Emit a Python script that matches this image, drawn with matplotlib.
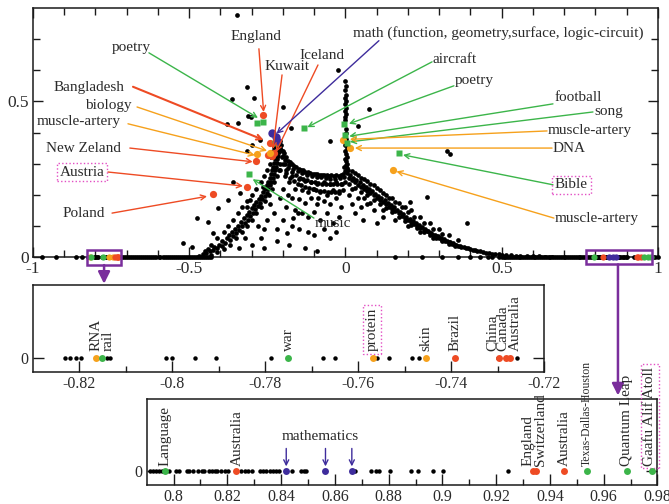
import matplotlib
matplotlib.use("Agg")
import matplotlib.pyplot as plt

plt.rcParams["font.family"] = ["Liberation Serif", "DejaVu Serif"]
plt.rcParams["axes.unicode_minus"] = False

RED = "#ee4b24"
ORANGE = "#f6a11c"
GREEN = "#3cb54a"
BLUE = "#3e2c9c"
PURPLE = "#7a2e9c"
PINK = "#e34fc4"
TXT = "#2a2a2a"

# ---------------- top panel: black points ----------------
column_x = [0.000, 0.002, -0.001, 0.001, 0.000, 0.003, -0.002, 0.001, 0.000, 0.002,
            0.000, -0.001, 0.002, 0.001, 0.000, 0.003, 0.001, -0.002, 0.004, 0.000,
            0.002, 0.005, -0.003, 0.003, 0.006, 0.001, -0.004, 0.004, 0.008, -0.002]
column_y = [0.565, 0.548, 0.535, 0.522, 0.512, 0.502, 0.490, 0.480, 0.470, 0.460,
            0.450, 0.440, 0.412, 0.400, 0.390, 0.380, 0.370, 0.360, 0.350, 0.340,
            0.330, 0.320, 0.315, 0.310, 0.300, 0.295, 0.290, 0.285, 0.280, 0.275]

rise_x = [-0.47, -0.455, -0.445, -0.435, -0.44, -0.425, -0.42, -0.41, -0.405, -0.395,
          -0.395, -0.385, -0.38, -0.37, -0.372, -0.36, -0.362, -0.35, -0.352, -0.34,
          -0.345, -0.332, -0.335, -0.322, -0.325, -0.313, -0.316, -0.305, -0.308, -0.296,
          -0.3, -0.288, -0.292, -0.28, -0.285, -0.272, -0.278, -0.266, -0.27, -0.259,
          -0.264, -0.252, -0.258, -0.247, -0.252, -0.242, -0.247, -0.237, -0.243, -0.233,
          -0.238, -0.229, -0.235, -0.226, -0.232, -0.223, -0.229, -0.22, -0.226, -0.218,
          -0.223, -0.215, -0.22, -0.212, -0.216, -0.209, -0.212, -0.205, -0.21, -0.218,
          -0.45, -0.43, -0.41, -0.39, -0.375, -0.36, -0.345, -0.33, -0.315, -0.3,
          -0.285, -0.27, -0.26, -0.25, -0.243, -0.238, -0.232, -0.228,
          -0.43, -0.41, -0.39, -0.37, -0.35, -0.33, -0.315, -0.3, -0.285, -0.27,
          -0.258, -0.245, -0.235, -0.228, -0.22, -0.213, -0.208, -0.203, -0.2]
rise_y = [0.004, 0.008, 0.012, 0.018, 0.025, 0.022, 0.032, 0.028, 0.040, 0.036,
          0.050, 0.046, 0.060, 0.056, 0.070, 0.066, 0.080, 0.076, 0.090, 0.088,
          0.100, 0.098, 0.112, 0.108, 0.124, 0.120, 0.135, 0.132, 0.146, 0.142,
          0.156, 0.153, 0.166, 0.164, 0.176, 0.175, 0.186, 0.185, 0.197, 0.196,
          0.208, 0.207, 0.219, 0.218, 0.230, 0.230, 0.242, 0.242, 0.254, 0.254,
          0.266, 0.266, 0.278, 0.278, 0.290, 0.290, 0.302, 0.302, 0.314, 0.314,
          0.326, 0.326, 0.338, 0.338, 0.350, 0.350, 0.362, 0.360, 0.372, 0.365,
          0.02, 0.04, 0.06, 0.08, 0.10, 0.12, 0.14, 0.16, 0.18, 0.20,
          0.22, 0.24, 0.26, 0.28, 0.30, 0.32, 0.34, 0.355,
          0.005, 0.015, 0.025, 0.04, 0.06, 0.08, 0.10, 0.12, 0.14, 0.16,
          0.18, 0.20, 0.22, 0.24, 0.26, 0.28, 0.30, 0.32, 0.34]

upper_x = [-0.205, -0.198, -0.2, -0.19, -0.185, -0.195, -0.178, -0.172, -0.182, -0.165,
           -0.158, -0.168, -0.15, -0.142, -0.152, -0.135, -0.128, -0.138, -0.12, -0.112,
           -0.122, -0.105, -0.098, -0.108, -0.09, -0.082, -0.092, -0.075, -0.068, -0.078,
           -0.06, -0.052, -0.062, -0.045, -0.038, -0.048, -0.03, -0.022, -0.032, -0.015,
           -0.008, -0.018, -0.005,
           -0.195, -0.183, -0.171, -0.159, -0.147, -0.135, -0.123, -0.111, -0.099, -0.087,
           -0.075, -0.063, -0.051, -0.039, -0.027, -0.015, -0.003,
           -0.19, -0.177, -0.165, -0.153, -0.141, -0.129, -0.117, -0.105, -0.093, -0.081,
           -0.069, -0.057, -0.045, -0.033, -0.021, -0.009]
upper_y = [0.345, 0.335, 0.325, 0.322, 0.310, 0.312, 0.305, 0.298, 0.296, 0.292,
           0.288, 0.284, 0.284, 0.280, 0.276, 0.278, 0.274, 0.270, 0.272, 0.270,
           0.264, 0.268, 0.266, 0.260, 0.266, 0.264, 0.258, 0.264, 0.262, 0.256,
           0.262, 0.260, 0.254, 0.262, 0.260, 0.252, 0.262, 0.260, 0.252, 0.262,
           0.266, 0.254, 0.256,
           0.300, 0.285, 0.272, 0.262, 0.255, 0.250, 0.246, 0.242, 0.240, 0.238,
           0.236, 0.236, 0.235, 0.234, 0.236, 0.235, 0.240,
           0.270, 0.255, 0.245, 0.236, 0.230, 0.225, 0.222, 0.218, 0.215, 0.213,
           0.212, 0.210, 0.210, 0.210, 0.212, 0.215]

fall_x = [0.005, 0.01, 0.015, 0.02, 0.025, 0.03, 0.035, 0.04, 0.045, 0.05,
          0.055, 0.06, 0.065, 0.07, 0.075, 0.08, 0.085, 0.09, 0.095, 0.1,
          0.105, 0.11, 0.115, 0.12, 0.125, 0.13, 0.135, 0.14, 0.145, 0.15,
          0.155, 0.16, 0.165, 0.17, 0.175, 0.18, 0.185, 0.19, 0.195, 0.2,
          0.205, 0.21, 0.215, 0.22, 0.225, 0.23, 0.235, 0.24, 0.245, 0.25,
          0.255, 0.26, 0.265, 0.27, 0.275, 0.28, 0.285, 0.29, 0.295, 0.3,
          0.305, 0.31, 0.315, 0.32, 0.325, 0.33, 0.335, 0.34, 0.345, 0.35,
          0.355, 0.36, 0.365, 0.37, 0.378, 0.385, 0.392, 0.4, 0.408, 0.415,
          0.422, 0.43, 0.44, 0.45, 0.46, 0.47, 0.48, 0.49, 0.5, 0.515,
          0.53, 0.545, 0.56, 0.58, 0.6, 0.62, 0.64, 0.66,
          0.01, 0.03, 0.05, 0.07, 0.09, 0.11, 0.13, 0.15, 0.17, 0.19,
          0.21, 0.23, 0.25, 0.27, 0.29, 0.31, 0.33, 0.35,
          0.02, 0.04, 0.06, 0.08, 0.1, 0.12, 0.14, 0.16, 0.18, 0.2,
          0.22, 0.25, 0.28, 0.31,
          0.03, 0.05, 0.07, 0.09, 0.11, 0.13, 0.15, 0.17, 0.19, 0.21,
          0.24, 0.27, 0.3, 0.33, 0.36, 0.06, 0.08, 0.12, 0.16, 0.2,
          0.24, 0.28]
fall_y = [0.270, 0.255, 0.262, 0.248, 0.255, 0.240, 0.247, 0.232, 0.240, 0.226,
          0.232, 0.218, 0.225, 0.212, 0.218, 0.205, 0.211, 0.198, 0.204, 0.190,
          0.196, 0.183, 0.189, 0.176, 0.182, 0.169, 0.174, 0.162, 0.167, 0.155,
          0.160, 0.148, 0.152, 0.140, 0.145, 0.133, 0.137, 0.126, 0.130, 0.120,
          0.123, 0.113, 0.116, 0.106, 0.109, 0.100, 0.102, 0.094, 0.096, 0.088,
          0.090, 0.082, 0.084, 0.076, 0.078, 0.071, 0.072, 0.066, 0.067, 0.061,
          0.062, 0.056, 0.057, 0.051, 0.052, 0.047, 0.048, 0.043, 0.044, 0.039,
          0.040, 0.036, 0.036, 0.033, 0.032, 0.029, 0.028, 0.025, 0.024, 0.021,
          0.020, 0.018, 0.016, 0.014, 0.012, 0.011, 0.009, 0.008, 0.007, 0.006,
          0.005, 0.004, 0.003, 0.003, 0.002, 0.002, 0.001, 0.001,
          0.235, 0.222, 0.210, 0.198, 0.184, 0.170, 0.156, 0.144, 0.130, 0.117,
          0.104, 0.092, 0.080, 0.070, 0.060, 0.050, 0.041, 0.034,
          0.275, 0.262, 0.250, 0.235, 0.222, 0.205, 0.190, 0.178, 0.160, 0.145,
          0.130, 0.110, 0.090, 0.075,
          0.270, 0.255, 0.245, 0.230, 0.215, 0.200, 0.190, 0.175, 0.160, 0.150,
          0.130, 0.110, 0.090, 0.070, 0.055, 0.190, 0.175, 0.150, 0.120, 0.100,
          0.080, 0.060]

cloud_x = [-0.19, -0.17, -0.15, -0.13, -0.11, -0.09, -0.07, -0.05, -0.03, -0.01,
           -0.2, -0.18, -0.16, -0.14, -0.12, -0.1, -0.08, -0.06, -0.04, -0.02,
           -0.195, -0.21, -0.2, -0.185, -0.17, -0.15, -0.13, -0.11, -0.09, -0.07,
           -0.05, -0.03, -0.015, -0.21, -0.19, -0.16, -0.14, -0.12, -0.1, -0.08,
           -0.06, -0.04, -0.02, -0.2, -0.17, -0.15, -0.12, -0.1, -0.07, -0.05,
           -0.03, -0.22, -0.23, -0.24, -0.25, -0.26, -0.27, -0.28, -0.22, -0.18,
           -0.13, -0.09, -0.3, -0.32, -0.34, -0.26, 0.01, 0.02, 0.03, 0.04,
           0.05, 0.02, 0.07, 0.09, 0.12, 0.1]
cloud_y = [0.28, 0.26, 0.25, 0.245, 0.24, 0.235, 0.24, 0.235, 0.24, 0.235,
           0.30, 0.24, 0.22, 0.215, 0.21, 0.22, 0.21, 0.20, 0.215, 0.205,
           0.26, 0.28, 0.22, 0.20, 0.19, 0.185, 0.175, 0.19, 0.17, 0.18,
           0.17, 0.19, 0.16, 0.19, 0.16, 0.15, 0.14, 0.13, 0.145, 0.12,
           0.14, 0.11, 0.13, 0.12, 0.10, 0.09, 0.08, 0.07, 0.09, 0.06,
           0.08, 0.09, 0.14, 0.17, 0.12, 0.09, 0.06, 0.10, 0.05, 0.04,
           0.03, 0.02, 0.04, 0.06, 0.03, 0.03, 0.20, 0.17, 0.14, 0.19,
           0.16, 0.22, 0.17, 0.15, 0.13, 0.11]

outlier_x = [-0.348, -0.314, -0.364, -0.293, -0.201, -0.311, -0.303, -0.38, -0.343, -0.175,
             -0.023, -0.274, -0.316, -0.3, -0.05, 0.076, 0.041, 0.326, 0.334, 0.26,
             0.206, 0.057, 0.388, -0.476, -0.44, -0.408, -0.36, -0.376, -0.338, -0.306,
             -0.316, -0.264, -0.424, -0.519, -0.492, -0.169, -0.152, -0.088, -0.188]
outlier_y = [0.776, 0.546, 0.508, 0.512, 0.481, 0.453, 0.449, 0.428, 0.432, 0.414,
             0.601, 0.376, 0.339, 0.36, 0.374, 0.475, 0.421, 0.339, 0.331, 0.194,
             0.178, 0.119, 0.108, 0.124, 0.114, 0.157, 0.241, 0.183, 0.205, 0.183,
             0.162, 0.226, 0.077, 0.045, 0.033, 0.124, 0.141, 0.19, 0.076]

# points lying on the x axis (y = 0)
axis_left = [-0.97, -0.925, -0.861, -0.842, -0.716, -0.71, -0.703, -0.697, -0.69, -0.684,
             -0.677, -0.671, -0.664, -0.657, -0.651, -0.644, -0.638, -0.631, -0.625, -0.618,
             -0.612, -0.605, -0.598, -0.592, -0.585, -0.579, -0.572, -0.566, -0.559, -0.553,
             -0.546, -0.54, -0.533, -0.527, -0.52, -0.514, -0.507, -0.501, -0.494, -0.488,
             -0.481, -0.475, -0.468, -0.462, -0.455, -0.449, -0.442, -0.436, -0.43]
axis_right = [0.16, 0.245, 0.31, 0.36, 0.4, 0.43, 0.455, 0.47, 0.49, 0.5,
              0.506, 0.512, 0.518, 0.524, 0.53, 0.536, 0.542, 0.548, 0.554, 0.56,
              0.566, 0.572, 0.578, 0.584, 0.59, 0.596, 0.602, 0.608, 0.614, 0.62,
              0.626, 0.632, 0.638, 0.644, 0.65, 0.656, 0.662, 0.668, 0.674, 0.68,
              0.686, 0.692, 0.698, 0.704, 0.71, 0.716, 0.722, 0.728, 0.734, 0.74,
              0.746, 0.752, 0.758, 0.764, 0.77, 0.776, 0.782, 0.788, 0.985, 0.992, 1.0]

# ---------------- top panel: coloured points ----------------
top_red_x = [-0.264, -0.242, -0.248, -0.236, -0.23, -0.286, -0.315, -0.425]
top_red_y = [0.457, 0.367, 0.328, 0.323, 0.333, 0.31, 0.225, 0.203]
top_orange_x = [-0.284, -0.242, -0.007, 0.014, 0.152]
top_orange_y = [0.33, 0.335, 0.376, 0.35, 0.28]
top_green_x = [-0.284, -0.263, -0.226, -0.132, -0.004, 0.0, 0.004, -0.308, 0.171]
top_green_y = [0.43, 0.433, 0.366, 0.414, 0.427, 0.392, 0.366, 0.266, 0.334]
top_blue_x = [-0.236, -0.222, -0.22]
top_blue_y = [0.398, 0.387, 0.374]

# ---------------- zoomed panels ----------------
mid_black = [-0.8232, -0.8221, -0.8207, -0.8197, -0.8141, -0.8135, -0.8013, -0.8, -0.7952, -0.7906,
             -0.7787, -0.7676, -0.7649, -0.7559, -0.7533, -0.7484, -0.7468, -0.73, -0.7257]
mid_labels = ["RNA", "rail", "war", "protein", "skin", "Brazil", "China", "Canada", "Australia"]
mid_x = [-0.8165, -0.8151, -0.775, -0.7567, -0.7455, -0.7391, -0.7296, -0.7282, -0.7273]
mid_colors = [ORANGE, GREEN, GREEN, ORANGE, ORANGE, RED, RED, RED, RED]

bot_black = [0.7912, 0.7923, 0.7934, 0.7945, 0.7956, 0.7983, 0.8009, 0.802, 0.8049, 0.8059,
             0.8072, 0.8089, 0.8106, 0.8112, 0.8133, 0.8142, 0.8153, 0.8162, 0.8175, 0.8191,
             0.8202, 0.8249, 0.8266, 0.8278, 0.8292, 0.8322, 0.8332, 0.8345, 0.8357, 0.8368,
             0.8382, 0.8391, 0.8441, 0.8475, 0.8485, 0.8494, 0.8674, 0.8734, 0.8754, 0.8763,
             0.8804, 0.8884, 0.8909, 0.8966, 0.9002, 0.9243]
bot_labels = ["Language", "Australia", "England", "Switzerland", "Australia",
              "Texas-Dallas-Houston", "Quantum Leap", "Gaafu Alif Atoll"]
bot_x = [0.7967, 0.8233, 0.9336, 0.9349, 0.9452, 0.9538, 0.9687, 0.978]
bot_colors = [GREEN, RED, RED, RED, RED, GREEN, GREEN, GREEN]
math_x = [0.8419, 0.8565, 0.8663]

# annotation layout for the top panel: text, text pos, arrow start, arrow end, colour
LEFT_NOTES = [
    ("poetry", (-0.686, 0.672), (-0.629, 0.656), (-0.28, 0.447), GREEN),
    ("England", (-0.286, 0.707), (-0.277, 0.669), (-0.262, 0.466), RED),
    ("Kuwait", (-0.187, 0.611), (-0.203, 0.585), (-0.232, 0.347), RED),
    ("Iceland", (-0.075, 0.646), (-0.088, 0.617), (-0.222, 0.338), RED),
    ("Bangladesh", (-0.821, 0.543), (-0.68, 0.547), (-0.262, 0.376), RED),
    ("biology", (-0.76, 0.486), (-0.667, 0.482), (-0.251, 0.341), ORANGE),
    ("muscle-artery", (-0.853, 0.434), (-0.696, 0.428), (-0.29, 0.327), ORANGE),
    ("New Zeland", (-0.837, 0.35), (-0.69, 0.35), (-0.297, 0.306), RED),
    ("Austria", (-0.843, 0.273), (-0.76, 0.273), (-0.328, 0.228), RED),
    ("Poland", (-0.837, 0.141), (-0.747, 0.141), (-0.443, 0.195), RED),
    ("music", (-0.04, 0.109), (-0.101, 0.125), (-0.297, 0.25), GREEN),
]
RIGHT_NOTES = [
    ("math (function, geometry,surface, logic-circuit)", (0.024, 0.72), (0.107, 0.695), (-0.221, 0.396), BLUE),
    ("aircraft", (0.277, 0.633), (0.277, 0.627), (-0.122, 0.417), GREEN),
    ("poetry", (0.35, 0.566), (0.347, 0.55), (0.011, 0.428), GREEN),
    ("football", (0.67, 0.511), (0.664, 0.492), (0.012, 0.388), GREEN),
    ("song", (0.798, 0.469), (0.792, 0.466), (0.014, 0.37), GREEN),
    ("muscle-artery", (0.648, 0.405), (0.645, 0.405), (0.014, 0.378), ORANGE),
    ("DNA", (0.664, 0.35), (0.661, 0.35), (0.03, 0.35), ORANGE),
    ("Bible", (0.67, 0.232), (0.664, 0.232), (0.184, 0.328), GREEN),
    ("muscle-artery", (0.67, 0.125), (0.667, 0.125), (0.163, 0.275), ORANGE),
]
BOXED = {"Austria", "Bible", "protein", "Gaafu Alif Atoll"}


def dotted_box():
    return dict(boxstyle="square,pad=0.18", fc="none", ec=PINK, ls=(0, (1, 1.6)), lw=1.0)


def style_axis(ax, major_len, minor_len, size):
    for s in ax.spines.values():
        s.set_linewidth(1.1)
        s.set_color("#1a1a1a")
    ax.tick_params(which="major", direction="in", length=major_len, width=1.0,
                   labelsize=size, color="#1a1a1a", labelcolor=TXT, pad=3)
    ax.tick_params(which="minor", direction="in", length=minor_len, width=1.0, color="#1a1a1a")


fig = plt.figure(figsize=(6.69, 5.04), dpi=100)

# ---------------- top panel ----------------
ax = fig.add_axes([0.0493, 0.4901, 0.9342, 0.4940])
ax.set_xlim(-1, 1)
ax.set_ylim(0, 0.8)
ax.set_xticks([-1, -0.5, 0, 0.5, 1])
ax.set_xticklabels(["-1", "-0.5", "0", "0.5", "1"])
ax.set_xticks([i / 10 for i in range(-9, 10)], minor=True)
ax.set_yticks([0, 0.5])
ax.set_yticklabels(["0", "0.5"])
ax.set_yticks([0.1, 0.2, 0.3, 0.4, 0.6, 0.7], minor=True)
style_axis(ax, 7, 5, 12.5)
ax.tick_params(which="both", top=True, right=True)

dot = dict(ls="none", marker="o", ms=3.4, color="black", mec="none", zorder=3)
for xs, ys in [(column_x, column_y), (rise_x, rise_y), (upper_x, upper_y),
               (fall_x, fall_y), (cloud_x, cloud_y), (outlier_x, outlier_y)]:
    ax.plot(xs, ys, **dot)
on_axis = axis_left + mid_black + bot_black + axis_right
ax.plot(on_axis, [0] * len(on_axis), clip_on=False, **dot)

for xs, cs in [(mid_x, mid_colors), (bot_x, bot_colors)]:
    for xv, c in zip(xs, cs):
        ax.plot([xv], [0], marker="o", ms=4.5, color=c, mec="none", clip_on=False, zorder=4)
ax.plot(math_x, [0] * len(math_x), ls="none", marker="o", ms=4.5, color=BLUE, mec="none",
        clip_on=False, zorder=4)

ax.plot(top_red_x, top_red_y, ls="none", marker="o", ms=5.2, color=RED, mec="none", zorder=4)
ax.plot(top_orange_x, top_orange_y, ls="none", marker="o", ms=5.2, color=ORANGE, mec="none", zorder=4)
ax.plot(top_green_x, top_green_y, ls="none", marker="s", ms=4.4, color=GREEN, mec="none", zorder=4)
ax.plot(top_blue_x, top_blue_y, ls="none", marker="o", ms=6.0, color=BLUE, mec="none", zorder=4)

for notes, ha in [(LEFT_NOTES, "center"), (RIGHT_NOTES, "left")]:
    for label, tpos, start, end, c in notes:
        ax.text(tpos[0], tpos[1], label, ha=ha, va="center", fontsize=11, color=TXT, zorder=6,
                bbox=dotted_box() if label in BOXED else None)
        lw = 1.5 if label == "Bangladesh" else 1.0
        ax.annotate("", xy=end, xytext=start, zorder=5,
                    arrowprops=dict(arrowstyle="->", color=c, lw=lw, shrinkA=0, shrinkB=0,
                                    mutation_scale=9))

# zoom boxes and connecting arrows
ax.add_patch(plt.Rectangle((-0.828, -0.026), 0.11, 0.05, fill=False, ec=PURPLE, lw=1.8,
                           clip_on=False, zorder=5))
ax.add_patch(plt.Rectangle((0.77, -0.024), 0.212, 0.047, fill=False, ec=PURPLE, lw=1.8,
                           clip_on=False, zorder=5))
for xc, y0, y1 in [(-0.7725, -0.026, -0.086), (0.872, -0.024, -0.445)]:
    ax.annotate("", xy=(xc, y1), xytext=(xc, y0), annotation_clip=False, zorder=5,
                arrowprops=dict(arrowstyle="-|>,head_width=0.35,head_length=0.7",
                                color=PURPLE, lw=1.8, shrinkA=0, shrinkB=0))

# ---------------- middle panel ----------------
axm = fig.add_axes([0.0493, 0.2619, 0.7638, 0.1726])
axm.set_xlim(-0.83, -0.72)
axm.set_ylim(-0.2, 1.0)
mid_ticks = [-0.82, -0.8, -0.78, -0.76, -0.74, -0.72]
axm.set_xticks(mid_ticks)
axm.set_xticklabels(["-0.82", "-0.8", "-0.78", "-0.76", "-0.74", "-0.72"])
axm.set_xticks([-0.81, -0.79, -0.77, -0.75, -0.73], minor=True)
axm.set_yticks([0])
axm.set_yticklabels(["0"])
style_axis(axm, 8, 4.5, 11.5)
axm.tick_params(axis="y", which="both", right=True)
axm.tick_params(axis="x", which="both", top=False)
axm.plot(mid_black, [0] * len(mid_black), ls="none", marker="o", ms=3.2, color="black",
         mec="none", zorder=3)
label_shift_mid = [0.0, 0.0012, 0.0, -0.0003, 0.0, 0.0, -0.0015, -0.0007, 0.0012]
for xv, lab, c, dx in zip(mid_x, mid_labels, mid_colors, label_shift_mid):
    axm.plot([xv], [0], marker="o", ms=5, color=c, mec="none", zorder=4)
    axm.text(xv + dx, 0.09, lab, rotation=90, ha="center", va="bottom", fontsize=11,
             color=TXT, clip_on=False, bbox=dotted_box() if lab in BOXED else None)

# ---------------- bottom panel ----------------
axb = fig.add_axes([0.2193, 0.0377, 0.7635, 0.1706])
axb.set_xlim(0.79, 0.98)
axb.set_ylim(-0.2, 1.0)
bot_ticks = [0.8, 0.82, 0.84, 0.86, 0.88, 0.9, 0.92, 0.94, 0.96, 0.98]
axb.set_xticks(bot_ticks)
axb.set_xticklabels(["0.8", "0.82", "0.84", "0.86", "0.88", "0.9", "0.92", "0.94", "0.96", "0.98"])
axb.set_xticks([0.81, 0.83, 0.85, 0.87, 0.89, 0.91, 0.93, 0.95, 0.97], minor=True)
axb.set_yticks([0])
axb.set_yticklabels(["0"])
style_axis(axb, 8, 4.5, 11.5)
axb.tick_params(axis="y", which="both", right=True)
axb.tick_params(axis="x", which="both", top=False)
axb.plot(bot_black, [0] * len(bot_black), ls="none", marker="o", ms=3.2, color="black",
         mec="none", zorder=3)
axb.plot(math_x, [0] * len(math_x), ls="none", marker="o", ms=5, color=BLUE, mec="none", zorder=4)
label_shift_bot = [0.0, 0.0005, -0.0016, 0.0016, 0.0003, 0.0, -0.0003, -0.0008]
for xv, lab, c, dx in zip(bot_x, bot_labels, bot_colors, label_shift_bot):
    axb.plot([xv], [0], marker="o", ms=5, color=c, mec="none", zorder=4, clip_on=False)
    fs = 8.5 if lab.startswith("Texas") else 11
    axb.text(xv + dx, 0.07, lab, rotation=90, ha="center", va="bottom", fontsize=fs,
             color=TXT, clip_on=False, bbox=dotted_box() if lab in BOXED else None)
axb.text(0.8545, 0.47, "mathematics", ha="center", va="center", fontsize=11, color=TXT)
for xv in math_x:
    axb.annotate("", xy=(xv, 0.06), xytext=(xv, 0.31),
                 arrowprops=dict(arrowstyle="->", color=BLUE, lw=1.0, shrinkA=0, shrinkB=0,
                                 mutation_scale=9))

fig.savefig("out.png", dpi=100)
